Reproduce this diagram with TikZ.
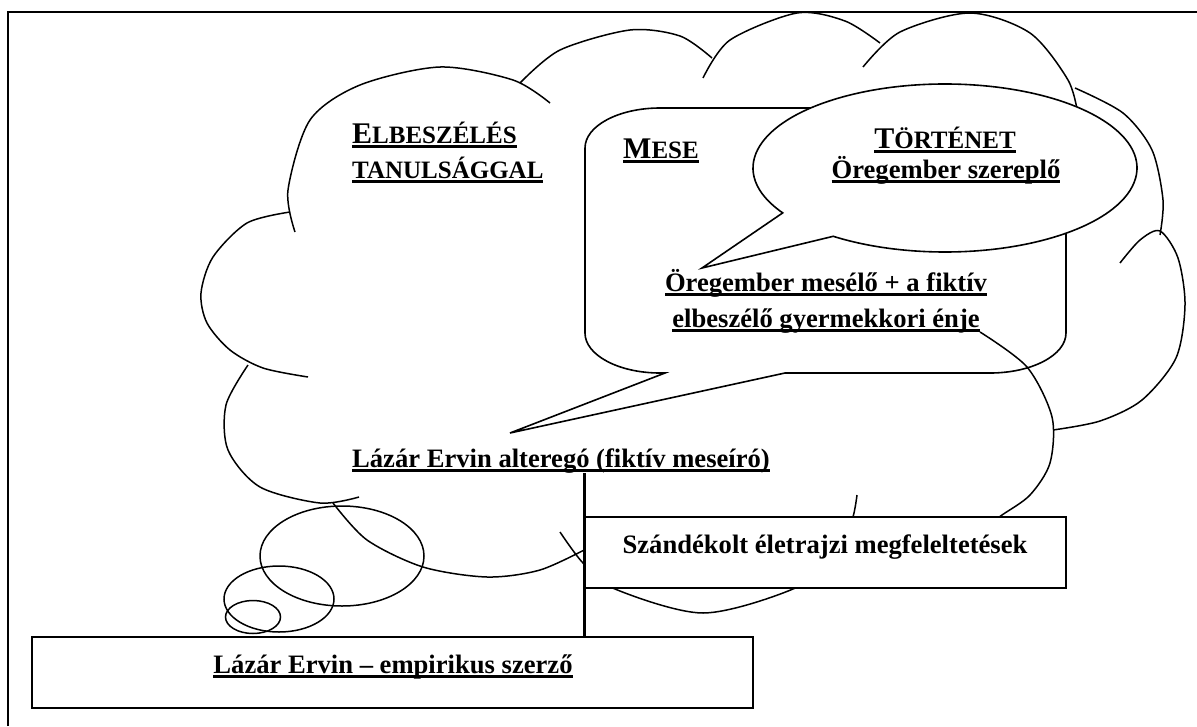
\documentclass[tikz,border=0pt]{standalone}
\usepackage{fontspec}
\setmainfont{Liberation Serif}
\newcommand\ulx[1]{\setbox0\hbox{#1}\rlap{\rule[-5pt]{\wd0}{3pt}}\box0}
\newcommand\hcapL{\fontsize{30}{30}\selectfont}
\newcommand\hcapS{\fontsize{25}{25}\selectfont}
\begin{document}
\begin{tikzpicture}[x=1pt,y=-1pt,
  lobe/.style={line width=1.5pt},
  shapeline/.style={line width=1.6pt},
  boxline/.style={line width=1.8pt, fill=white},
  txt/.style={inner sep=0pt, font=\fontsize{26.6}{30}\selectfont\bfseries},
  link/.style={line width=3pt}]
\useasboundingbox (0,0) rectangle (1197,726);
% frame
\draw[line width=2pt] (8,726) -- (8,12) -- (1197,12);
% cloud lobes
\draw[lobe] plot[smooth] coordinates {(295,232) (288,190) (310,120) (360,85) (440,67) (513,80) (550,103)};
\draw[lobe] plot[smooth] coordinates {(520,83) (560,50) (630,30) (680,36) (712,58)};
\draw[lobe] plot[smooth] coordinates {(703,78) (730,40) (797,13) (845,21) (880,43)};
\draw[lobe] plot[smooth] coordinates {(863,67) (900,32) (970,13) (1030,33) (1068,80) (1078,115)};
\draw[lobe] plot[smooth] coordinates {(1075,88) (1123,113) (1152,150) (1163,200) (1160,235)};
\draw[lobe] plot[smooth] coordinates {(1120,263) (1140,240) (1160,231) (1178,258) (1185,305) (1176,358) (1142,400) (1100,421) (1053,430)};
\draw[lobe] plot[smooth] coordinates {(980,332) (1027,367) (1052,417) (1050,463) (1030,495) (1002,515) (985,527)};
\draw[lobe] plot[smooth] coordinates {(560,532) (583,563) (615,589) (703,613) (793,589) (840,555) (853,517) (857,495)};
\draw[lobe] plot[smooth] coordinates {(333,503) (367,540) (423,567) (487,577) (540,570) (588,548)};
\draw[lobe] plot[smooth] coordinates {(248,365) (226,405) (228,450) (260,487) (320,503) (359,497)};
\draw[lobe] plot[smooth] coordinates {(290,212) (247,223) (213,257) (201,293) (207,323) (230,350) (263,368) (308,377)};
% thought bubbles
\draw[lobe] (342,556) ellipse[x radius=82, y radius=50];
\draw[lobe] (279,599) ellipse[x radius=55, y radius=33];
\draw[lobe] (253,617) ellipse[x radius=27.5, y radius=16.5];
% Mese callout
\draw[shapeline] (660,108) -- (990,108) arc[start angle=-90, end angle=0, x radius=76, y radius=40]
  -- (1066,333) arc[start angle=0, end angle=90, x radius=76, y radius=40]
  -- (785,373) -- (510,433) -- (665,373) -- (660,373)
  arc[start angle=90, end angle=180, x radius=75, y radius=40]
  -- (585,148) arc[start angle=180, end angle=270, x radius=75, y radius=40] -- cycle;
% Tortenet callout
\draw[shapeline, fill=white] (945,168) ++(147.7:192 and 84)
  arc[start angle=147.7, end angle=485.6, x radius=192, y radius=84] -- (702,268) -- cycle;
% boxes
\node[boxline, draw, minimum width=481pt, minimum height=71pt, inner sep=0pt] (sz) at (825.5,552.5) {};
\node[boxline, draw, line width=2pt, minimum width=721pt, minimum height=71pt, inner sep=0pt] (emp) at (392.5,672.5) {};
% texts
\node[txt, anchor=base west] (elb1) at (352,143) {\ulx{{\hcapL E}{\hcapS LBESZÉLÉS}}};
\node[txt, anchor=base west] (elb2) at (352,178) {\ulx{\hcapS TANULSÁGGAL}};
\node[txt, anchor=base west] (mese) at (623,158) {\ulx{{\hcapL M}{\hcapS ESE}}};
\node[txt, anchor=base] (tort) at (945,148) {\ulx{{\hcapL T}{\hcapS ÖRTÉNET}}};
\node[txt, anchor=base] (szer) at (946,178) {\ulx{Öregember szereplő}};
\node[txt, anchor=base] (mes1) at (826,291) {\ulx{Öregember mesélő + a fiktív}};
\node[txt, anchor=base] (mes2) at (826,327) {\ulx{elbeszélő gyermekkori énje}};
\node[txt, anchor=base west] (alter) at (352,467) {\ulx{Lázár Ervin alteregó (fiktív meseíró)}};
\node[txt, anchor=base] (sztext) at (825,553) {Szándékolt életrajzi megfeleltetések};
\node[txt, anchor=base] (emptext) at (393,673) {\ulx{Lázár Ervin – empirikus szerző}};
% connector
\draw[link] (sz.west |- alter.south) -- (sz.west |- emp.north);
\end{tikzpicture}
\end{document}
